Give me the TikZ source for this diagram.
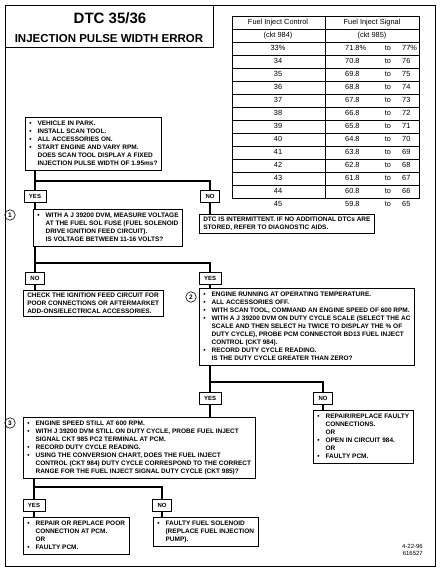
\documentclass[tikz,border=0pt]{standalone}
\usepackage{fontspec}
\setmainfont{Liberation Sans}
\usetikzlibrary{positioning}

\newcommand{\steplist}[1]{\begin{tabular}{@{}l@{\hspace{6pt}}l@{}}#1\end{tabular}}
\newcommand{\bu}{\textbullet}

\begin{document}
\begin{tikzpicture}[x=1pt, y=-1pt,
  box/.style={draw, line width=0.6pt, anchor=north west, inner xsep=4pt, inner ysep=2.5pt, align=left, font=\fontsize{6.5}{8}\selectfont\bfseries},
  tag/.style={draw, line width=0.6pt, minimum height=12pt, inner xsep=5pt, inner ysep=0pt, font=\fontsize{6}{7}\selectfont\bfseries},
  num/.style={circle, draw, line width=0.6pt, minimum size=10.5pt, inner sep=0pt, font=\fontsize{6.5}{6.5}\selectfont\bfseries},
  conn/.style={line width=1.8pt},
  cell/.style={font=\fontsize{7.4}{8}\selectfont, inner sep=0pt, text height=5.4pt, text depth=1.4pt}]
  \useasboundingbox (0,0) rectangle (441,578);
  % frame and title
  \draw[line width=0.8pt] (5,5) rectangle (435,566);
  \draw[line width=0.8pt] (5,5) rectangle (213,47);
  \node[font=\fontsize{15}{15}\selectfont\bfseries] (dtc) at (110,18.5) {DTC 35/36};
  \node[font=\fontsize{11.5}{12}\selectfont\bfseries] (title) at (109,38.5) {INJECTION PULSE WIDTH ERROR};
  % conversion chart
  \draw[line width=0.6pt] (232,16) rectangle (419,198);
  \draw[line width=0.6pt] (325,16) -- (325,198);
  \foreach \r in {1,...,13}
    \draw[line width=0.5pt] (232,16+13*\r) -- (419,16+13*\r);
  \node[cell] (ctlhead) at (278,22.5) {Fuel Inject Control};
  \node[cell] (sighead) at (372,22.5) {Fuel Inject Signal};
  \node[cell] (ctlckt) at (278,35.5) {(ckt 984)};
  \node[cell] (sigckt) at (372,35.5) {(ckt 985)};
  \foreach \ctl/\lo/\hi [count=\r] in {33\%/71.8\%/77\%, 34/70.8/76, 35/69.8/75, 36/68.8/74,
      37/67.8/73, 38/66.8/72, 39/65.8/71, 40/64.8/70, 41/63.8/69, 42/62.8/68,
      43/61.8/67, 44/60.8/66, 45/59.8/65}
  {
    \node[cell] (ctl\r) at (278,35.5+13*\r) {\ctl};
    \node[cell, anchor=west] (lo\r) at (345,35.5+13*\r) {\lo};
    \node[cell] (to\r) at (388,35.5+13*\r) {to};
    \node[cell, anchor=west] (hi\r) at (402,35.5+13*\r) {\hi};
  }
  % step 0
  \node[box] (start) at (25,117) {\steplist{
    \bu & VEHICLE IN PARK.\\
    \bu & INSTALL SCAN TOOL.\\
    \bu & ALL ACCESSORIES ON.\\
    \bu & START ENGINE AND VARY RPM.\\
        & DOES SCAN TOOL DISPLAY A FIXED\\
        & INJECTION PULSE WIDTH OF 1.95ms?}};
  \node[tag] (yesA) at (35,196) {YES};
  \node[tag] (noA) at (210,196) {NO};
  \coordinate (jA) at (210,181);
  % step 1
  \node[num] (c1) at (10,215) {1};
  \node[box] (check1) at (33,209) {\steplist{
    \bu & WITH A J 39200 DVM, MEASURE VOLTAGE\\
        & AT THE FUEL SOL FUSE (FUEL SOLENOID\\
        & DRIVE IGNITION FEED CIRCUIT).\\
        & IS VOLTAGE BETWEEN 11-16 VOLTS?}};
  \node[box] (intermit) at (199,214) {DTC IS INTERMITTENT. IF NO ADDITIONAL DTCs ARE\\STORED, REFER TO DIAGNOSTIC AIDS.};
  \node[tag] (noB) at (35,278) {NO};
  \node[tag] (yesB) at (210,278) {YES};
  \coordinate (jB) at (210,263);
  \node[box] (feed) at (23,290) {CHECK THE IGNITION FEED CIRCUIT FOR\\POOR CONNECTIONS OR AFTERMARKET\\ADD-ONS/ELECTRICAL ACCESSORIES.};
  % step 2
  \node[num] (c2) at (191,297) {2};
  \node[box] (check2) at (199,288) {\steplist{
    \bu & ENGINE RUNNING AT OPERATING TEMPERATURE.\\
    \bu & ALL ACCESSORIES OFF.\\
    \bu & WITH SCAN TOOL, COMMAND AN ENGINE SPEED OF 600 RPM.\\
    \bu & WITH A J 39200 DVM ON DUTY CYCLE SCALE (SELECT THE AC\\
        & SCALE AND THEN SELECT Hz TWICE TO DISPLAY THE \% OF\\
        & DUTY CYCLE), PROBE PCM CONNECTOR BD13 FUEL INJECT\\
        & CONTROL (CKT 984).\\
    \bu & RECORD DUTY CYCLE READING.\\
        & IS THE DUTY CYCLE GREATER THAN ZERO?}};
  \node[tag] (yesC) at (210,398) {YES};
  \node[tag] (noC) at (323,398) {NO};
  \coordinate (jC) at (323,382);
  \node[box] (fixckt) at (313,410) {\steplist{
    \bu & REPAIR/REPLACE FAULTY\\
        & CONNECTIONS.\\
        & OR\\
    \bu & OPEN IN CIRCUIT 984.\\
        & OR\\
    \bu & FAULTY PCM.}};
  % step 3
  \node[num] (c3) at (10,423) {3};
  \node[box] (check3) at (23,417) {\steplist{
    \bu & ENGINE SPEED STILL AT 600 RPM.\\
    \bu & WITH J 39200 DVM STILL ON DUTY CYCLE, PROBE FUEL INJECT\\
        & SIGNAL CKT 985 PC2 TERMINAL AT PCM.\\
    \bu & RECORD DUTY CYCLE READING.\\
    \bu & USING THE CONVERSION CHART, DOES THE FUEL INJECT\\
        & CONTROL (CKT 984) DUTY CYCLE CORRESPOND TO THE CORRECT\\
        & RANGE FOR THE FUEL INJECT SIGNAL DUTY CYCLE (CKT 985)?}};
  \node[tag] (yesD) at (34,505) {YES};
  \node[tag] (noD) at (162,505) {NO};
  \coordinate (jD) at (162,487);
  \node[box] (fixpcm) at (23,517) {\steplist{
    \bu & REPAIR OR REPLACE POOR\\
        & CONNECTION AT PCM.\\
        & OR\\
    \bu & FAULTY PCM.}};
  \node[box] (fixsol) at (153,517) {\steplist{
    \bu & FAULTY FUEL SOLENOID\\
        & (REPLACE FUEL INJECTION\\
        & PUMP).}};
  \node[anchor=south east, align=right, inner sep=0pt, font=\fontsize{6}{7}\selectfont] (stamp) at (423,556) {4-22-96\\616527};
  % connectors
  \draw[conn] (start.south -| yesA.north) -- (yesA.north);
  \draw[conn] (start.south -| yesA.north) |- (jA) -- (noA.north);
  \draw[conn] (yesA.south) -- (yesA.south |- check1.north);
  \draw[conn] (noA.south) -- (noA.south |- intermit.north);
  \draw[conn] (check1.south -| noB.north) -- (noB.north);
  \draw[conn] (check1.south -| noB.north) |- (jB) -- (yesB.north);
  \draw[conn] (noB.south) -- (noB.south |- feed.north);
  \draw[conn] (yesB.south) -- (yesB.south |- check2.north);
  \draw[conn] (check2.south -| yesC.north) -- (yesC.north);
  \draw[conn] (check2.south -| yesC.north) |- (jC) -- (noC.north);
  \draw[conn] (yesC.south) -- (yesC.south |- check3.north);
  \draw[conn] (noC.south) -- (noC.south |- fixckt.north);
  \draw[conn] (check3.south -| yesD.north) -- (yesD.north);
  \draw[conn] (check3.south -| yesD.north) |- (jD) -- (noD.north);
  \draw[conn] (yesD.south) -- (yesD.south |- fixpcm.north);
  \draw[conn] (noD.south) -- (noD.south |- fixsol.north);
\end{tikzpicture}
\end{document}
